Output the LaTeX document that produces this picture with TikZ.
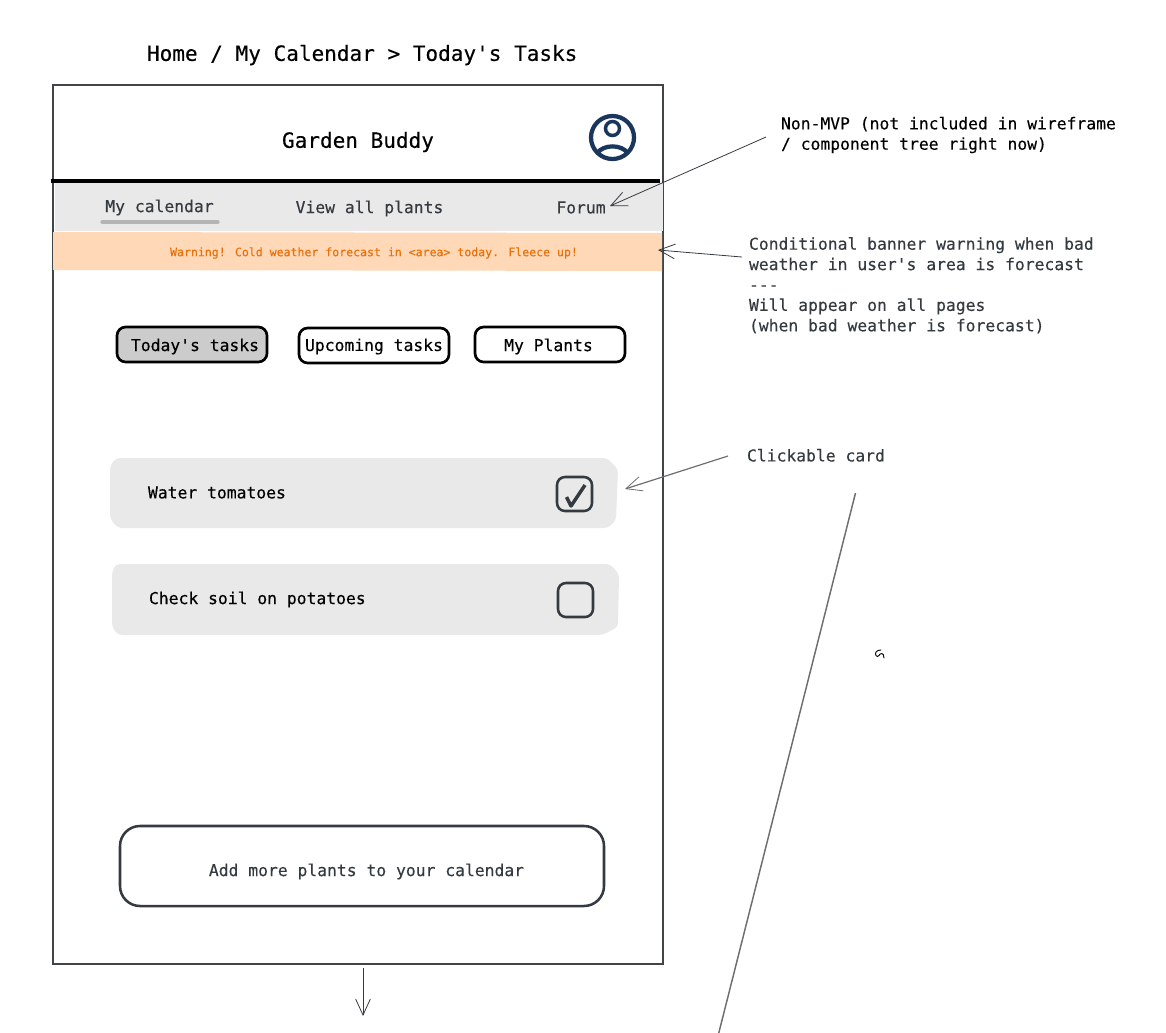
\documentclass[tikz,border=0pt]{standalone}
\usepackage{fontspec}
\newfontfamily\monof[FakeBold=0.25]{DejaVu Sans Mono}
\usetikzlibrary{arrows.meta}
\definecolor{ink}{HTML}{343A40}
\definecolor{frame}{HTML}{40454A}
\definecolor{navbg}{HTML}{E9E9E9}
\definecolor{bannerbg}{HTML}{FFD8B8}
\definecolor{warn}{HTML}{E8710A}
\definecolor{navy}{HTML}{1B365D}
\definecolor{selbg}{HTML}{CCCCCC}
\definecolor{under}{HTML}{B5B5B5}
\definecolor{grayline}{HTML}{6E6E6E}
\tikzset{
  x=0.75pt,y=-0.75pt,
  base/.style={inner sep=0pt,outer sep=0pt},
  notetext/.style={base,anchor=west,align=left,text=ink,font=\monof\fontsize{12.27pt}{15.3pt}\selectfont},
  blacktext/.style={base,text=black,font=\monof\fontsize{12.27pt}{15.3pt}\selectfont},
  inktext/.style={base,text=ink,font=\monof\fontsize{12.27pt}{15.3pt}\selectfont},
  bigtext/.style={base,text=black,font=\monof\fontsize{15.77pt}{18pt}\selectfont},
  tabbox/.style={draw=black,line width=2pt,rounded corners=6.5pt},
  card/.style={fill=navbg,rounded corners=3pt},
  chk/.style={draw=ink,line width=1.9pt,rounded corners=6pt},
  arr/.style={-{Straight Barb[length=12pt,width=11pt,line width=0.6pt]},line width=0.6pt,color=ink},
}
\begin{document}
\begin{tikzpicture}
\useasboundingbox (0,0) rectangle (1166,1032);
% frame
\draw[frame,line width=2.1pt,line join=miter] (53,85) -- (663,85) -- (663,964) -- (53,964) -- cycle;
% nav and banner
\fill[navbg] (55,183) rectangle (663,231);
\fill[bannerbg] (53,232) -- (662,233) -- (662,271) -- (53,270) -- cycle;
\draw[black,line width=2.3pt] (51,181) -- (660,181);
\draw[under,line width=2.4pt,line cap=round] (102,222) -- (218,222);
% title
\node[bigtext,anchor=west] (crumb) at (147,55) {Home / My Calendar > Today's Tasks};
\node[bigtext] (brand) at (358,142) {Garden Buddy};
% profile icon
\draw[navy,line width=3.2pt] (612.5,137.5) circle[radius=21.5];
\draw[navy,line width=2.6pt] (612.5,128.5) circle[radius=7];
\draw[navy,line width=3.2pt] (597,153.5) .. controls (603,144) and (622,144) .. (628,153.5);
% nav
\node[inktext] (navcal) at (159.5,207.5) {My calendar};
\node[inktext] (navplants) at (369.5,208.5) {View all plants};
\node[inktext] (navforum) at (581,207.5) {Forum};
\node[base,text=warn,font=\monof\fontsize{8.66pt}{10pt}\selectfont] (warning) at (374,253) {Warning! Cold weather forecast in <area> today. Fleece up!};
% tabs
\draw[tabbox,fill=selbg] (117,327) rectangle (267,362);
\draw[tabbox] (299,328) rectangle (449,363);
\draw[tabbox] (475,327) rectangle (625,362);
\node[blacktext] (tab1) at (195,346.5) {Today's tasks};
\node[blacktext] (tab2) at (374,346.5) {Upcoming tasks};
\node[blacktext] (tab3) at (548.5,346.5) {My Plants};
% cards
\fill[card] (116,458) -- (607,458) -- (618,469) -- (616,520) -- (608,528) -- (118,528) -- (110,519) -- (110,466) -- cycle;
\fill[card] (116,564) -- (610,564) -- (619,574) -- (618,627) -- (602,635) -- (118,635) -- (112,627) -- (112,572) -- cycle;
\node[blacktext,anchor=west] (card1) at (148,492.5) {Water tomatoes};
\node[blacktext,anchor=west] (card2) at (149,599.5) {Check soil on potatoes};
\draw[chk] (557,477) rectangle (592,511);
\draw[chk] (558,583) rectangle (593,617);
\draw[ink,line width=2.6pt,line join=round] (566.5,497) -- (571,506) -- (585,485);
% add button
\draw[draw=ink,line width=1.9pt,rounded corners=15pt] (120,826) rectangle (604,906);
\node[inktext] (addbtn) at (366.5,871.5) {Add more plants to your calendar};
% notes
\node[notetext,text=black] (note1) at (781,135) {Non-MVP (not included in wireframe\\/ component tree right now)};
\node[notetext] (note2) at (749,285.3) {Conditional banner warning when bad\\weather in user's area is forecast\\---\\Will appear on all pages\\(when bad weather is forecast)};
\node[notetext] (note3) at (747,455.3) {Clickable card};
% connector ends
\coordinate (a1s) at (766,137);
\coordinate (a1e) at (610,206);
\coordinate (a2s) at (742,257);
\coordinate (a2e) at (658,250);
\coordinate (a3s) at (728,456);
\coordinate (a3e) at (625,489);
\coordinate (a4s) at (363,968);
\coordinate (a4e) at (363,1016);
\coordinate (ls) at (855.5,493);
\coordinate (le) at (718.5,1034);
\draw[arr] (a1s) -- (a1e);
\draw[arr] (a2s) -- (a2e);
\draw[arr,color=grayline,line width=0.9pt] (a3s) -- (a3e);
\draw[arr] (a4s) -- (a4e);
\draw[grayline,line width=1.1pt] (ls) -- (le);
% squiggle
\draw[black,line width=0.7pt,line cap=round] (884,658) .. controls (884,652) and (880,653) .. (879,655.5) .. controls (877,658) and (874.5,655) .. (876,652) .. controls (877,650.5) and (879,650) .. (881,650);
\end{tikzpicture}
\end{document}
